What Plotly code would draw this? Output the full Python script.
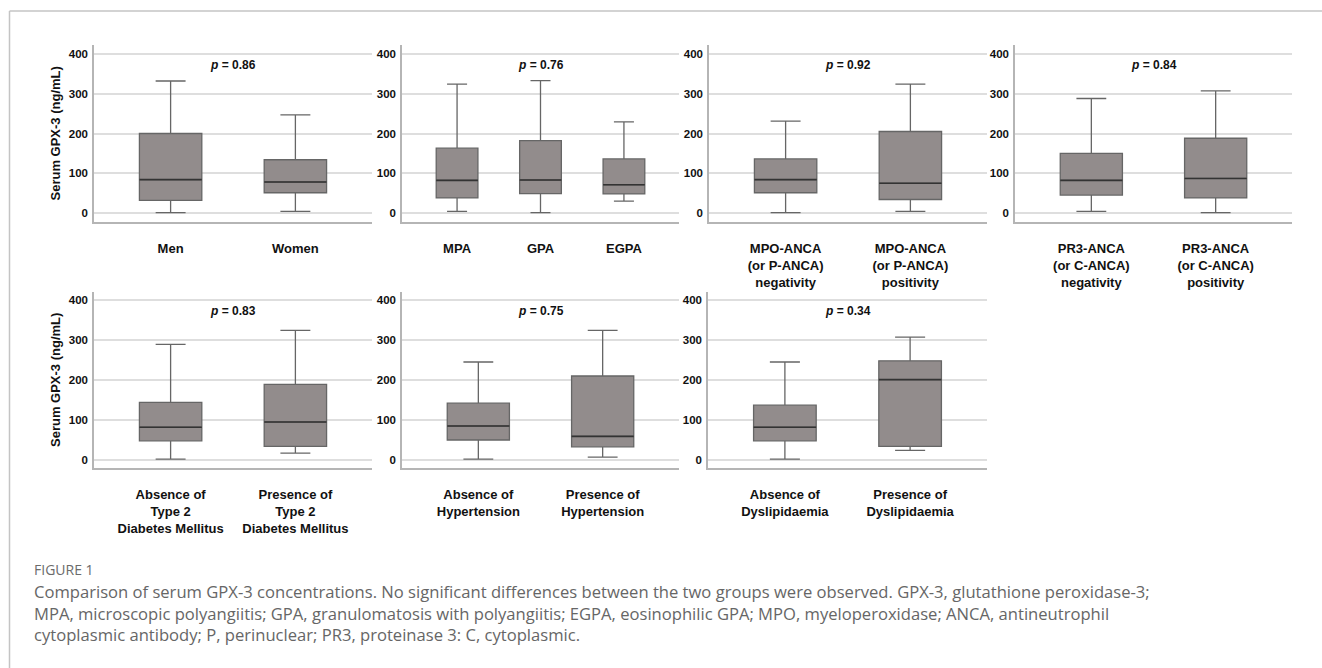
import plotly.graph_objects as go

W, H = 1322, 668

# ---- data ----
panel_of = [0, 0, 1, 1, 1, 2, 2, 3, 3, 4, 4, 5, 5, 6, 6]
groups = [
    "Men", "Women",
    "MPA", "GPA", "EGPA",
    "MPO-ANCA<br>(or P-ANCA)<br>negativity", "MPO-ANCA<br>(or P-ANCA)<br>positivity",
    "PR3-ANCA<br>(or C-ANCA)<br>negativity", "PR3-ANCA<br>(or C-ANCA)<br>positivity",
    "Absence of<br>Type 2<br>Diabetes Mellitus", "Presence of<br>Type 2<br>Diabetes Mellitus",
    "Absence of<br>Hypertension", "Presence of<br>Hypertension",
    "Absence of<br>Dyslipidaemia", "Presence of<br>Dyslipidaemia",
]
lower = [1, 4, 4, 1, 30, 1, 4, 4, 1, 2, 17, 2, 7, 2, 24]
q1 = [32, 51, 38, 49, 48, 51, 34, 45, 38, 48, 34, 50, 33, 48, 34]
median = [84, 78, 82, 83, 71, 84, 75, 82, 87, 82, 95, 85, 59, 82, 201]
q3 = [200, 134, 163, 182, 136, 136, 205, 150, 188, 144, 189, 142, 210, 137, 248]
upper = [332, 247, 324, 333, 229, 231, 324, 288, 307, 289, 324, 245, 324, 245, 307]
p_values = ["0.86", "0.76", "0.92", "0.84", "0.83", "0.75", "0.34"]
y_ticks = [0, 100, 200, 300, 400]
y_title = "Serum GPX-3 (ng/mL)"
caption_head = "FIGURE 1"
caption_lines = [
    "Comparison of serum GPX-3 concentrations. No significant differences between the two groups were observed. GPX-3, glutathione peroxidase-3;",
    "MPA, microscopic polyangiitis; GPA, granulomatosis with polyangiitis; EGPA, eosinophilic GPA; MPO, myeloperoxidase; ANCA, antineutrophil",
    "cytoplasmic antibody; P, perinuclear; PR3, proteinase 3: C, cytoplasmic.",
]

# ---- layout geometry (pixels) ----
x_px = [(94, 372), (402, 679), (709, 987), (1015, 1292), (94, 372), (402, 679), (708, 987)]
row_of = [0, 0, 0, 0, 1, 1, 1]
y_px = [(45, 222), (292, 468)]
y_ranges = [[-22.6, 422.6], [-20, 420]]

FILL = "#928c8c"
EDGE = "#666666"
MED = "#333333"
AXIS = "#b5b5b5"
GRID = "#dedede"
FONT = "Liberation Sans, Arial, sans-serif"

fig = go.Figure()
layout = dict(
    width=W, height=H, margin=dict(l=0, r=0, t=0, b=0),
    paper_bgcolor="white", plot_bgcolor="white", showlegend=False,
    font=dict(family=FONT, color="black"), boxmode="overlay",
)
annotations = []

for p in range(7):
    idx = [i for i, q in enumerate(panel_of) if q == p]
    cats = [groups[i] for i in idx]
    n = len(cats)
    sfx = "" if p == 0 else str(p + 1)
    xa, ya = "x" + sfx, "y" + sfx
    fig.add_trace(go.Box(
        x=cats, q1=[q1[i] for i in idx], median=[median[i] for i in idx],
        q3=[q3[i] for i in idx], lowerfence=[lower[i] for i in idx],
        upperfence=[upper[i] for i in idx], width=0.5, whiskerwidth=0.48,
        fillcolor=FILL, line=dict(color=EDGE, width=1.3), boxpoints=False,
        xaxis=xa, yaxis=ya, hoverinfo="skip",
    ))
    # darker median line
    fig.add_trace(go.Box(
        x=cats, q1=[median[i] for i in idx], median=[median[i] for i in idx],
        q3=[median[i] for i in idx], lowerfence=[median[i] for i in idx],
        upperfence=[median[i] for i in idx], width=0.5, whiskerwidth=0,
        fillcolor="rgba(0,0,0,0)", line=dict(color=MED, width=1.6), boxpoints=False,
        xaxis=xa, yaxis=ya, hoverinfo="skip",
    ))
    r = row_of[p]
    x0, x1 = x_px[p]
    yt, yb = y_px[r]
    pad = 0.614 if n == 2 else 0.66
    layout["xaxis" + sfx] = dict(
        domain=[x0 / W, x1 / W], anchor=ya, type="category",
        range=[-pad, n - 1 + pad], showline=True, linecolor=AXIS, linewidth=1.5,
        showgrid=False, ticks="", ticklabelstandoff=14,
        tickfont=dict(size=13, weight="bold", color="#111"), fixedrange=True,
    )
    layout["yaxis" + sfx] = dict(
        domain=[1 - yb / H, 1 - yt / H], anchor=xa, range=y_ranges[r],
        tickvals=y_ticks, showline=True, linecolor=AXIS, linewidth=1.5,
        showgrid=True, gridcolor=GRID, gridwidth=1.5, zeroline=False,
        ticks="", ticklabelstandoff=2,
        tickfont=dict(size=11.5, weight="bold", color="#111"), fixedrange=True,
    )
    annotations.append(dict(
        xref=xa + " domain", yref=ya, x=0.5, y=372,
        text="<i>p</i> = " + p_values[p], showarrow=False,
        font=dict(size=12, weight="bold", color="#111"),
    ))

for r in range(2):
    yt, yb = y_px[r]
    annotations.append(dict(
        xref="paper", yref="paper", x=55 / W, y=1 - (yt + yb) / 2 / H,
        xanchor="center", yanchor="middle",
        text=y_title, textangle=-90, showarrow=False,
        font=dict(size=13, weight="bold", color="#111"),
    ))

CAP = "Open Sans, Lato, sans-serif"
annotations.append(dict(
    xref="paper", yref="paper", x=32 / W, y=1 - 569 / H, xanchor="left",
    yanchor="middle", text=caption_head, showarrow=False,
    font=dict(family=CAP, size=14, color="#6b6b6b"),
))
annotations.append(dict(
    xref="paper", yref="paper", x=32 / W, y=1 - 578 / H,
    xanchor="left", yanchor="top", align="left", text="<br>".join(caption_lines),
    showarrow=False, font=dict(family=CAP, size=16.6, color="#666666"),
))

layout["annotations"] = annotations
layout["shapes"] = [
    dict(type="line", xref="paper", yref="paper", x0=9.5 / W, x1=1, y0=1 - 11 / H, y1=1 - 11 / H,
         line=dict(color="#c4c4c4", width=1.5)),
    dict(type="line", xref="paper", yref="paper", x0=9.5 / W, x1=9.5 / W, y0=0, y1=1 - 11 / H,
         line=dict(color="#c4c4c4", width=1.5)),
]
fig.update_layout(**layout)
fig.write_html(
    "out.html",
    config={"displayModeBar": False},
    post_script="document.body.style.margin='0';document.body.style.overflow='hidden';",
)
